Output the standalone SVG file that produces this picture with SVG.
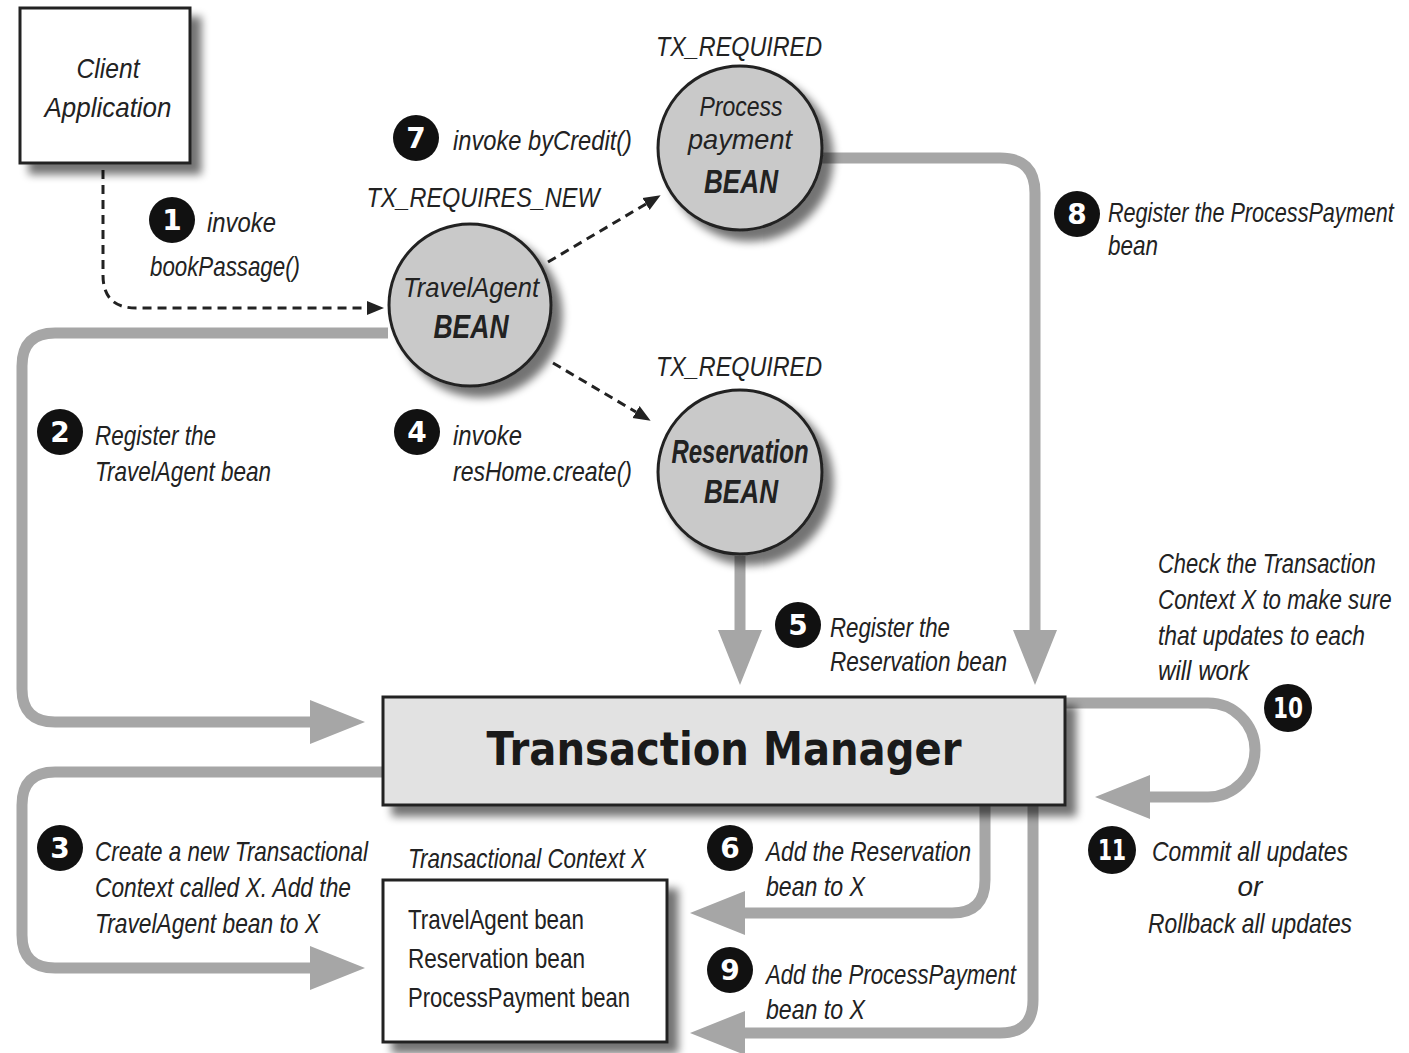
<svg xmlns="http://www.w3.org/2000/svg" width="1409" height="1053" viewBox="0 0 1409 1053">
<defs>
<filter id="sh" x="-20%" y="-20%" width="150%" height="150%">
<feGaussianBlur in="SourceAlpha" stdDeviation="4"/>
<feOffset dx="10" dy="10" result="o"/>
<feComponentTransfer><feFuncA type="linear" slope="0.55"/></feComponentTransfer>
<feMerge><feMergeNode/><feMergeNode in="SourceGraphic"/></feMerge>
</filter>
<marker id="big" markerUnits="userSpaceOnUse" markerWidth="60" markerHeight="50" viewBox="0 -25 60 50" refX="0" refY="0" orient="auto">
<path d="M0,-22 L55,0 L0,22 z" fill="#a6a6a6"/>
</marker>
<marker id="sm" markerUnits="userSpaceOnUse" markerWidth="20" markerHeight="20" viewBox="0 -10 20 20" refX="0" refY="0" orient="auto">
<path d="M0,-7 L17,0 L0,7 z" fill="#222"/>
</marker>
<style>
.g{fill:none;stroke:#a6a6a6;stroke-width:11}
.d{fill:none;stroke:#222;stroke-width:3;stroke-dasharray:9 6}
.t{font-family:"Liberation Sans",Arial,sans-serif;font-style:italic;font-size:28px;fill:#222}
.u{font-family:"Liberation Sans",Arial,sans-serif;font-size:28px;fill:#222}
.b{font-family:"Liberation Sans",Arial,sans-serif;font-style:italic;font-weight:bold;font-size:34px;fill:#222}
.n{fill:#111}
.nt{font-family:"DejaVu Sans",sans-serif;font-weight:bold;font-size:28px;fill:#fff;text-anchor:middle}
.bean{fill:#c9c9c9;stroke:#222;stroke-width:3}
.box{fill:#fff;stroke:#222;stroke-width:3}
</style>
</defs>
<rect width="1409" height="1053" fill="#fff"/>

<g id="connectors">
<path class="g" d="M388 333 H55 Q22 333 22 366 V689 Q22 722 55 722 H310" marker-end="url(#big)"/>
<path class="g" d="M383 772 H55 Q22 772 22 805 V935 Q22 968 55 968 H310" marker-end="url(#big)"/>
<path class="g" d="M740 556 V630" marker-end="url(#big)"/>
<path class="g" d="M822 158 H1000 Q1035 158 1035 193 V630" marker-end="url(#big)"/>
<path class="g" d="M1060 703 H1208 A47 47 0 0 1 1208 797 H1150" marker-end="url(#big)"/>
<path class="g" d="M985 805 V880 Q985 913 952 913 H745" marker-end="url(#big)"/>
<path class="g" d="M1033 805 V1000 Q1033 1033 1000 1033 H745" marker-end="url(#big)"/>
<path class="d" d="M103 170 V275 Q103 308 136 308 H367" marker-end="url(#sm)"/>
<path class="d" d="M548 262 L646 204" marker-end="url(#sm)"/>
<path class="d" d="M553 363 L636 412" marker-end="url(#sm)"/>
</g>

<g id="client">
<rect class="box" x="20" y="8" width="170" height="155" filter="url(#sh)"/>
<text class="t" x="108" y="78" text-anchor="middle" font-size="32" textLength="63" lengthAdjust="spacingAndGlyphs">Client</text>
<text class="t" x="108" y="117" text-anchor="middle" font-size="32" textLength="127" lengthAdjust="spacingAndGlyphs">Application</text>
</g>

<g id="travelagent">
<circle class="bean" cx="470" cy="305" r="81" filter="url(#sh)"/>
<text class="t" x="471" y="297" text-anchor="middle" font-size="32" textLength="136" lengthAdjust="spacingAndGlyphs">TravelAgent</text>
<text class="b" x="471" y="338" text-anchor="middle" textLength="75" lengthAdjust="spacingAndGlyphs">BEAN</text>
<text class="t" x="483" y="207" text-anchor="middle" font-size="30" textLength="233" lengthAdjust="spacingAndGlyphs">TX_REQUIRES_NEW</text>
</g>

<g id="processpayment">
<circle class="bean" cx="740" cy="148" r="82" filter="url(#sh)"/>
<text class="t" x="741" y="116" text-anchor="middle" font-size="32" textLength="83" lengthAdjust="spacingAndGlyphs">Process</text>
<text class="t" x="740" y="149" text-anchor="middle" font-size="32" textLength="104" lengthAdjust="spacingAndGlyphs">payment</text>
<text class="b" x="741" y="193" text-anchor="middle" textLength="74" lengthAdjust="spacingAndGlyphs">BEAN</text>
<text class="t" x="739" y="56" text-anchor="middle" font-size="30" textLength="166" lengthAdjust="spacingAndGlyphs">TX_REQUIRED</text>
</g>

<g id="reservation">
<circle class="bean" cx="740" cy="472" r="82" filter="url(#sh)"/>
<text class="b" x="740" y="463" text-anchor="middle" font-size="32" textLength="137" lengthAdjust="spacingAndGlyphs">Reservation</text>
<text class="b" x="741" y="503" text-anchor="middle" textLength="74" lengthAdjust="spacingAndGlyphs">BEAN</text>
<text class="t" x="739" y="376" text-anchor="middle" font-size="30" textLength="166" lengthAdjust="spacingAndGlyphs">TX_REQUIRED</text>
</g>

<g id="transactionmanager">
<rect x="383" y="697" width="682" height="108" fill="#e2e2e2" stroke="#222" stroke-width="3" filter="url(#sh)"/>
<text x="724" y="765" text-anchor="middle" font-family="'DejaVu Sans',sans-serif" font-weight="bold" font-size="46" fill="#1a1a1a" textLength="475" lengthAdjust="spacingAndGlyphs">Transaction Manager</text>
</g>

<g id="context">
<rect class="box" x="383" y="880" width="284" height="162" filter="url(#sh)"/>
<text class="t" x="408" y="868" textLength="238" lengthAdjust="spacingAndGlyphs">Transactional Context X</text>
<text class="u" x="408" y="929" textLength="176" lengthAdjust="spacingAndGlyphs">TravelAgent bean</text>
<text class="u" x="408" y="968" textLength="177" lengthAdjust="spacingAndGlyphs">Reservation bean</text>
<text class="u" x="408" y="1007" textLength="222" lengthAdjust="spacingAndGlyphs">ProcessPayment bean</text>
</g>

<g id="step1">
<circle class="n" cx="172" cy="220" r="23"/>
<text class="nt" x="172" y="230">1</text>
<text class="t" x="207" y="232" textLength="69" lengthAdjust="spacingAndGlyphs">invoke</text>
<text class="t" x="150" y="276" textLength="150" lengthAdjust="spacingAndGlyphs">bookPassage()</text>
</g>

<g id="step2">
<circle class="n" cx="60" cy="432" r="23"/>
<text class="nt" x="60" y="442">2</text>
<text class="t" x="95" y="445" textLength="121" lengthAdjust="spacingAndGlyphs">Register the</text>
<text class="t" x="95" y="481" textLength="176" lengthAdjust="spacingAndGlyphs">TravelAgent bean</text>
</g>

<g id="step3">
<circle class="n" cx="60" cy="848" r="23"/>
<text class="nt" x="60" y="858">3</text>
<text class="t" x="95" y="861" textLength="273" lengthAdjust="spacingAndGlyphs">Create a new Transactional</text>
<text class="t" x="95" y="897" textLength="256" lengthAdjust="spacingAndGlyphs">Context called X. Add the</text>
<text class="t" x="95" y="933" textLength="225" lengthAdjust="spacingAndGlyphs">TravelAgent bean to X</text>
</g>

<g id="step4">
<circle class="n" cx="417" cy="432" r="23"/>
<text class="nt" x="417" y="442">4</text>
<text class="t" x="453" y="445" textLength="69" lengthAdjust="spacingAndGlyphs">invoke</text>
<text class="t" x="453" y="481" textLength="179" lengthAdjust="spacingAndGlyphs">resHome.create()</text>
</g>

<g id="step5">
<circle class="n" cx="798" cy="625" r="23"/>
<text class="nt" x="798" y="635">5</text>
<text class="t" x="830" y="637" textLength="120" lengthAdjust="spacingAndGlyphs">Register the</text>
<text class="t" x="830" y="671" textLength="177" lengthAdjust="spacingAndGlyphs">Reservation bean</text>
</g>

<g id="step6">
<circle class="n" cx="730" cy="848" r="23"/>
<text class="nt" x="730" y="858">6</text>
<text class="t" x="766" y="861" textLength="205" lengthAdjust="spacingAndGlyphs">Add the Reservation</text>
<text class="t" x="766" y="896" textLength="99" lengthAdjust="spacingAndGlyphs">bean to X</text>
</g>

<g id="step7">
<circle class="n" cx="416" cy="138" r="23"/>
<text class="nt" x="416" y="148">7</text>
<text class="t" x="453" y="150" textLength="179" lengthAdjust="spacingAndGlyphs">invoke byCredit()</text>
</g>

<g id="step8">
<circle class="n" cx="1077" cy="214" r="23"/>
<text class="nt" x="1077" y="224">8</text>
<text class="t" transform="translate(1108 222) scale(0.77 1)" x="0" y="0" textLength="371" lengthAdjust="spacingAndGlyphs">Register the ProcessPayment</text>
<text class="t" x="1108" y="255" textLength="50" lengthAdjust="spacingAndGlyphs">bean</text>
</g>

<g id="step9">
<circle class="n" cx="730" cy="970" r="23"/>
<text class="nt" x="730" y="980">9</text>
<text class="t" x="766" y="984" textLength="250" lengthAdjust="spacingAndGlyphs">Add the ProcessPayment</text>
<text class="t" x="766" y="1019" textLength="99" lengthAdjust="spacingAndGlyphs">bean to X</text>
</g>

<g id="step10">
<text class="t" transform="translate(1158 573) scale(0.78 1)" x="0" y="0" textLength="279" lengthAdjust="spacingAndGlyphs">Check the Transaction</text>
<text class="t" transform="translate(1158 609) scale(0.8 1)" x="0" y="0" textLength="292" lengthAdjust="spacingAndGlyphs">Context X to make sure</text>
<text class="t" x="1158" y="645" textLength="207" lengthAdjust="spacingAndGlyphs">that updates to each</text>
<text class="t" x="1158" y="680" textLength="91" lengthAdjust="spacingAndGlyphs">will work</text>
<circle class="n" cx="1288" cy="708" r="24"/>
<text class="nt" x="1288" y="718" textLength="30" lengthAdjust="spacingAndGlyphs">10</text>
</g>

<g id="step11">
<circle class="n" cx="1112" cy="850" r="24"/>
<text class="nt" x="1112" y="860" textLength="28" lengthAdjust="spacingAndGlyphs">11</text>
<text class="t" x="1250" y="861" text-anchor="middle" textLength="196" lengthAdjust="spacingAndGlyphs">Commit all updates</text>
<text class="t" x="1250" y="896" text-anchor="middle">or</text>
<text class="t" x="1250" y="933" text-anchor="middle" textLength="204" lengthAdjust="spacingAndGlyphs">Rollback all updates</text>
</g>
</svg>
